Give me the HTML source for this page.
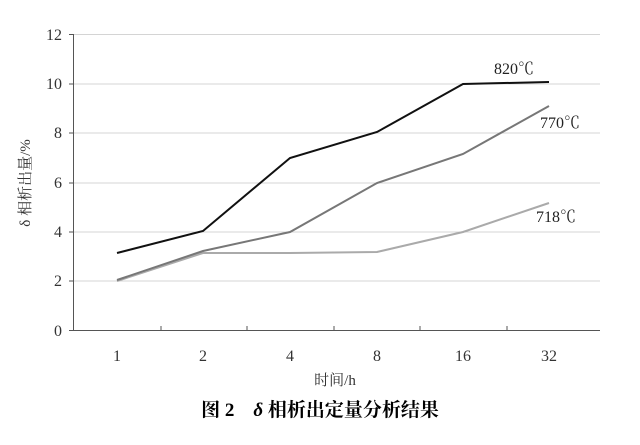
<!DOCTYPE html>
<html><head><meta charset="utf-8"><style>body{margin:0;background:#fff}</style></head><body>
<svg width="640" height="440" xmlns="http://www.w3.org/2000/svg" font-family="Liberation Serif, Noto Serif CJK SC, serif">
<g stroke="#d4d4d4" stroke-width="1">
<line x1="73" y1="34.5" x2="600" y2="34.5"/><line x1="73" y1="84" x2="600" y2="84"/><line x1="73" y1="133" x2="600" y2="133"/><line x1="73" y1="183" x2="600" y2="183"/><line x1="73" y1="232" x2="600" y2="232"/><line x1="73" y1="281" x2="600" y2="281"/>
</g>
<g stroke="#555" stroke-width="1">
<line x1="73.5" y1="34" x2="73.5" y2="331"/><line x1="73" y1="330.5" x2="600" y2="330.5"/>
<line x1="69" y1="34.5" x2="73" y2="34.5"/><line x1="69" y1="84" x2="73" y2="84"/><line x1="69" y1="133" x2="73" y2="133"/><line x1="69" y1="183" x2="73" y2="183"/><line x1="69" y1="232" x2="73" y2="232"/><line x1="69" y1="281" x2="73" y2="281"/><line x1="69" y1="330.5" x2="73" y2="330.5"/>
<line x1="161" y1="326" x2="161" y2="330"/><line x1="247" y1="326" x2="247" y2="330"/><line x1="334" y1="326" x2="334" y2="330"/><line x1="420" y1="326" x2="420" y2="330"/><line x1="507" y1="326" x2="507" y2="330"/>
</g>
<g font-size="16" fill="#333" text-anchor="end">
<text x="62" y="40">12</text><text x="62" y="89">10</text><text x="62" y="138">8</text><text x="62" y="188">6</text><text x="62" y="237">4</text><text x="62" y="286">2</text><text x="62" y="336">0</text>
</g>
<g font-size="16" fill="#333" text-anchor="middle">
<text x="117" y="361">1</text><text x="203" y="361">2</text><text x="290" y="361">4</text><text x="377" y="361">8</text><text x="463" y="361">16</text><text x="549" y="361">32</text>
<text x="335" y="385" font-size="15">时间/h</text>
</g>
<text transform="translate(30,183) rotate(-90)" font-size="15" fill="#333" text-anchor="middle">δ 相析出量/%</text>
<polyline fill="none" stroke="#aaa" stroke-width="2" points="117,281 203,253 290,253 377,252 463,232 549,203"/>
<polyline fill="none" stroke="#777" stroke-width="2" points="117,280 203,251 290,232 377,183 463,154 549,106"/>
<polyline fill="none" stroke="#111" stroke-width="2" points="117,253 203,231 290,158 377,132 463,84 549,82"/>
<g font-size="16" fill="#222">
<text x="494" y="74">820℃</text><text x="540" y="128">770℃</text><text x="536" y="222">718℃</text>
</g>
<text x="320" y="416" font-size="19" font-weight="bold" text-anchor="middle">图 2　<tspan font-style="italic">δ</tspan> 相析出定量分析结果</text>
</svg>
</body></html>
